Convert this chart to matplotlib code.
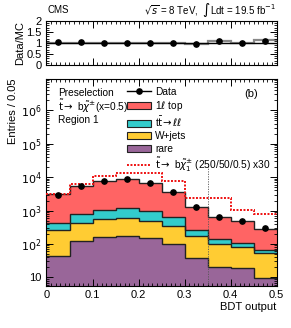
import numpy as np
import matplotlib
matplotlib.use("Agg")
import matplotlib.pyplot as plt
from matplotlib.lines import Line2D
from matplotlib.patches import Patch
from matplotlib.ticker import LogLocator, MultipleLocator, NullFormatter, FixedLocator

plt.rcParams['font.family'] = ['Liberation Sans', 'DejaVu Sans']
plt.rcParams['mathtext.fontset'] = 'dejavusans'

# ---- data ----
bin_edges = [0.0, 0.05, 0.10, 0.15, 0.20, 0.25, 0.30, 0.35, 0.40, 0.45, 0.50]
rare = [44, 120, 162, 178, 152, 98, 39, 21, 19, 9.8]
wjets = [213, 290, 398, 422, 348, 242, 134, 81, 62, 45]
ttll = [178, 360, 510, 630, 500, 310, 97, 43, 29, 13]
top1l = [2665, 4630, 6530, 7470, 5900, 2950, 1020, 475, 380, 207]
data = [2900, 5400, 7600, 8600, 6500, 3600, 1290, 650, 490, 300]
signal_stack = [3200, 6200, 10700, 13500, 13500, 7700, 2400, 2300, 1070, 810]
ratio = [1.03, 1.03, 1.0, 1.0, 1.0, 0.98, 0.95, 1.08, 1.0, 1.11]
ratio_band = [1.02, 1.02, 1.0, 1.0, 1.02, 1.0, 0.96, 1.07, 1.02, 1.12]
cut_value = 0.35

labels = ["Data", r"1$\mathit{\ell}$ top", r"t$\bar{\mathrm{t}}\!\rightarrow\mathit{\ell\ell}$",
          "W+jets", "rare",
          r"$\tilde{\mathrm{t}}\rightarrow$ b$\tilde{\chi}_1^{\pm}$ (250/50/0.5) x30"]
colors = {"top": "#ff6464", "ttll": "#33cccc", "wjets": "#ffcc33", "rare": "#996699"}

edges = np.array(bin_edges)
centers = 0.5 * (edges[:-1] + edges[1:])

W, H = 291, 328
fig = plt.figure(figsize=(W / 100, H / 100), dpi=100)
axr = fig.add_axes([46.5 / W, 1 - 65 / H, 230 / W, 44 / H])
ax = fig.add_axes([46.5 / W, 1 - 285.5 / H, 230 / W, 206.5 / H])

# ---- stacked histogram ----
comps = [(rare, colors["rare"]), (wjets, colors["wjets"]), (ttll, colors["ttll"]), (top1l, colors["top"])]
bottom = np.full(len(centers), 0.1)
for vals, c in comps:
    top = (bottom if bottom[0] > 0.1 else 0) + np.array(vals, dtype=float)
    ax.stairs(top, edges, baseline=bottom, fill=True, color=c, lw=0, zorder=1)
    ax.stairs(top, edges, baseline=None, color="#222222", lw=1.0, zorder=2)
    bottom = top

ax.stairs(signal_stack, edges, baseline=None, color="#ee1111", lw=1.4,
          linestyle=(0, (1, 0.8)), zorder=3)
ax.plot(centers, data, "o", color="k", ms=3.8, zorder=5)
ax.plot([cut_value, cut_value], [5, 2.8e4], color="#555555", lw=0.6, linestyle=(0, (1.5, 1.5)), zorder=4)

ax.set_yscale("log")
ax.set_xlim(0, 0.5)
ax.set_ylim(5.7, 8.7e6)
ax.yaxis.set_major_locator(FixedLocator([10, 1e2, 1e3, 1e4, 1e5, 1e6]))
ax.set_yticklabels(["10", r"$10^2$", r"$10^3$", r"$10^4$", r"$10^5$", r"$10^6$"])
ax.yaxis.set_minor_locator(LogLocator(base=10, subs=np.arange(2, 10) * 1.0, numticks=20))
ax.yaxis.set_minor_formatter(NullFormatter())
ax.xaxis.set_minor_locator(MultipleLocator(0.01))
ax.set_xticks([0, 0.1, 0.2, 0.3, 0.4, 0.5])
ax.set_xticklabels(["0", "0.1", "0.2", "0.3", "0.4", "0.5"])
for a in (ax, axr):
    a.tick_params(which="both", direction="in", top=True, right=True, labelsize=8)
    a.tick_params(which="major", length=5, width=0.7)
    a.tick_params(which="minor", length=2.5, width=0.6)
    for s in a.spines.values():
        s.set_linewidth(0.8)

ax.set_xlabel("BDT output", fontsize=8, loc="right", labelpad=1)
ax.set_ylabel("Entries / 0.05", fontsize=8, loc="top", labelpad=2)

# legend
handles = [Line2D([], [], color="k", marker="o", ms=3.8, lw=1.0),
           Patch(facecolor=colors["top"], edgecolor="#222222", lw=0.8),
           Patch(facecolor=colors["ttll"], edgecolor="#222222", lw=0.8),
           Patch(facecolor=colors["wjets"], edgecolor="#222222", lw=0.8),
           Patch(facecolor=colors["rare"], edgecolor="#222222", lw=0.8),
           Line2D([], [], color="#ee1111", lw=1.4, linestyle=(0, (1, 0.8)))]
ax.legend(handles, labels, loc="upper left", bbox_to_anchor=(0.33, 0.985), frameon=False,
          fontsize=7.3, handlelength=2.4, handletextpad=0.4, labelspacing=0.22,
          borderaxespad=0.25, borderpad=0.2)

ax.text(0.05, 0.93, "Preselection", transform=ax.transAxes, fontsize=7.3, va="center")
ax.text(0.05, 0.865, r"$\tilde{\mathrm{t}}\rightarrow$ b$\tilde{\chi}^{\pm}$(x=0.5)", transform=ax.transAxes,
        fontsize=7.3, va="center")
ax.text(0.05, 0.80, "Region 1", transform=ax.transAxes, fontsize=7.3, va="center")
ax.text(0.89, 0.925, "(b)", transform=ax.transAxes, fontsize=8, va="center", ha="center")

# ---- ratio panel ----
axr.stairs(ratio_band, edges, baseline=None, color="#888888", lw=1.6, zorder=1)
axr.axhline(1.0, color="k", lw=1.0, zorder=2)
axr.plot(centers, ratio, "o", color="k", ms=3.8, zorder=3)
axr.set_xlim(0, 0.5)
axr.set_ylim(0, 2.0)
axr.set_yticks([0, 0.5, 1, 1.5, 2])
axr.set_yticklabels(["0", "0.5", "1", "1.5", "2"])
axr.yaxis.set_minor_locator(MultipleLocator(0.1))
axr.xaxis.set_major_locator(MultipleLocator(0.1))
axr.xaxis.set_minor_locator(MultipleLocator(0.01))
axr.tick_params(labelbottom=False)
axr.set_ylabel("Data/MC", fontsize=8, labelpad=1)

fig.text(48 / W, 1 - 10 / H, "CMS", fontsize=7, va="center", ha="left")
fig.text(276 / W, 1 - 10 / H, r"$\sqrt{s}$ = 8 TeV,  $\int$Ldt = 19.5 fb$^{-1}$",
         fontsize=7, va="center", ha="right")

fig.savefig("out.png", dpi=100)
